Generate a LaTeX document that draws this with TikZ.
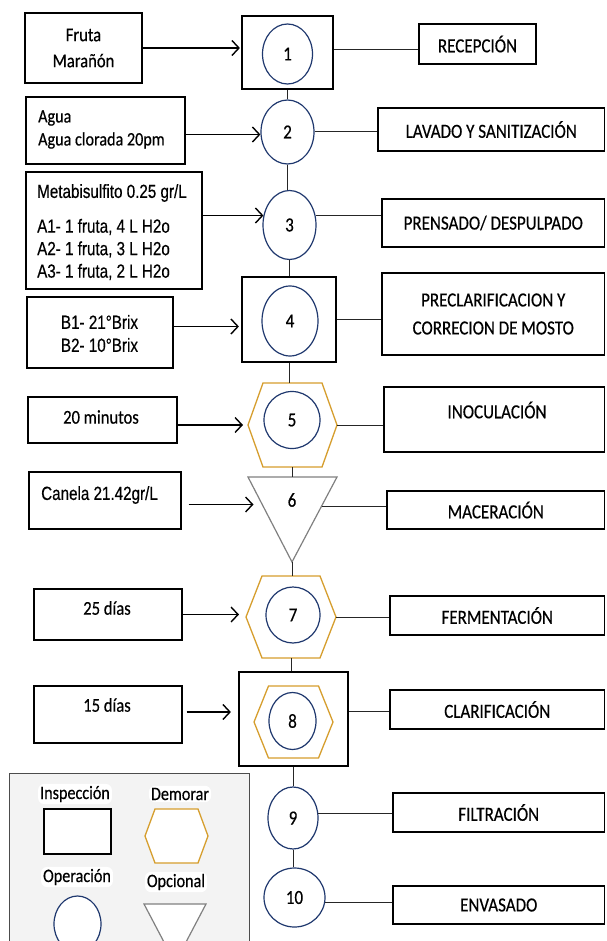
\documentclass[tikz,border=0pt]{standalone}
\usepackage{fontspec}
\setmainfont{Carlito}[FakeStretch=0.85,FakeBold=0.4]
\newfontfamily\narrowfont{Liberation Sans}[FakeStretch=0.8,FakeBold=0.4]
\usetikzlibrary{shapes.geometric,arrows.meta,calc}
\definecolor{navy}{RGB}{31,56,110}
\definecolor{gold}{RGB}{214,158,46}
\definecolor{trigray}{RGB}{128,128,128}
\definecolor{leggray}{RGB}{243,243,243}
\begin{document}
\begin{tikzpicture}[x=1pt,y=-1pt,
  inbox/.style={draw=black,line width=1.1pt,rectangle,inner sep=0pt},
  rbox/.style={draw=black,line width=1.1pt,rectangle,inner sep=0pt,align=center,font=\fontsize{20}{28}\selectfont},
  thickbox/.style={draw=black,line width=2.2pt,rectangle,inner sep=0pt},
  opc/.style={draw=navy,line width=1.2pt,ellipse,inner sep=0pt,font=\fontsize{20}{22}\selectfont},
  hexline/.style={draw=gold,line width=1.3pt,line join=miter},
  triline/.style={draw=trigray,line width=1.2pt},
  conn/.style={draw=black!85,line width=1pt},
  feed/.style={draw=black,line width=1.7pt,-{Straight Barb[length=7pt,width=15pt,line width=1.4pt]}},
  txt/.style={inner sep=0pt,font=\fontsize{19.5}{26}\selectfont},
  ntxt/.style={inner sep=0pt,font=\narrowfont\fontsize{19}{22.5}\selectfont},
  legtxt/.style={inner sep=2pt,fill=white,rounded corners=6pt,font=\fontsize{19}{20}\selectfont},
]
\useasboundingbox (0,0) rectangle (606,941);
\clip (0,0) rectangle (606,941);
\fill[white] (0,0) rectangle (606,941);

% ---------- left input boxes ----------
\node[inbox,txt,align=center,minimum width=117pt,minimum height=70pt] (fruta) at (83.5,48) {Fruta\\Marañón};
\node[inbox,minimum width=159pt,minimum height=67pt] (agua) at (105.5,130.5) {};
\node[txt,anchor=west,align=left,font=\fontsize{19}{23}\selectfont] (aguat) at (38,129.5) {Agua\\Agua clorada 20pm};
\node[inbox,minimum width=176pt,minimum height=117pt] (meta) at (114,230.5) {};
\node[ntxt,anchor=west] (metat) at (37,193) {Metabisulfito 0.25 gr/L};
\node[ntxt,anchor=west,align=left] (alines) at (37,249.5) {A1- 1 fruta, 4 L H2o\\A2- 1 fruta, 3 L H2o\\A3- 1 fruta, 2 L H2o};
\node[inbox,minimum width=146pt,minimum height=71pt] (brix) at (100,332.5) {};
\node[ntxt,align=center,font=\narrowfont\fontsize{19}{23}\selectfont] (brixt) at (99.5,333.5) {B1- 21°Brix\\B2- 10°Brix};
\node[inbox,minimum width=149pt,minimum height=46pt] (min20) at (102.5,420) {};
\node[txt] (min20t) at (101,417) {20 minutos};
\node[inbox,minimum width=152pt,minimum height=57pt] (canela) at (105,500.5) {};
\node[ntxt,anchor=west] (canelat) at (41,495) {Canela 21.42gr/L};
\node[inbox,minimum width=148pt,minimum height=51pt] (d25) at (108,614.5) {};
\node[txt] (d25t) at (107,608) {25 días};
\node[inbox,minimum width=148pt,minimum height=57pt] (d15) at (108,714.5) {};
\node[txt] (d15t) at (107,705) {15 días};

% ---------- central process column ----------
\node[thickbox,minimum width=91pt,minimum height=73pt] (box1) at (287.5,52.5) {};
\node[opc,minimum width=50pt,minimum height=60pt] (c1) at (287.5,54) {1};
\node[opc,minimum width=53pt,minimum height=64pt] (c2) at (287.5,132) {2};
\node[opc,minimum width=53pt,minimum height=69pt] (c3) at (289.5,225) {3};
\node[thickbox,minimum width=94pt,minimum height=85pt] (box4) at (289,319.5) {};
\node[opc,minimum width=56pt,minimum height=70pt] (c4) at (290,321) {4};

\coordinate (h5l) at (248,425);
\coordinate (h5r) at (337,425);
\coordinate (h5t) at (292.5,383);
\coordinate (h5b) at (292.5,467);
\draw[hexline] (h5l) -- ++(15,-42) -- ++(59,0) -- (h5r) -- ++(-15,42) -- ++(-59,0) -- cycle;
\node[opc,minimum width=56pt,minimum height=57pt] (c5) at (292,420) {5};

\coordinate (t6a) at (248,477);
\coordinate (t6b) at (337,477);
\coordinate (t6c) at (292,562);
\coordinate (t6top) at (292,477);
\coordinate (t6r) at (322,506);
\coordinate (t6l) at (262.5,505);
\draw[triline,line join=miter] (t6a) -- (t6b) -- (t6c) -- cycle;
\node[opc,draw=none] (n6) at (292,500) {6};

\coordinate (h7l) at (246,617);
\coordinate (h7r) at (336,617);
\coordinate (h7t) at (291,576);
\coordinate (h7b) at (291,658);
\draw[hexline] (h7l) -- ++(16,-41) -- ++(58,0) -- (h7r) -- ++(-16,41) -- ++(-58,0) -- cycle;
\node[opc,minimum width=54pt,minimum height=56pt] (c7) at (293,615) {7};

\node[thickbox,minimum width=109pt,minimum height=94pt] (box8) at (293.5,719) {};
\coordinate (h8l) at (254,722);
\coordinate (h8r) at (333,722);
\draw[hexline] (h8l) -- ++(14.5,-36) -- ++(50,0) -- (h8r) -- ++(-14.5,36) -- ++(-50,0) -- cycle;
\node[opc,minimum width=47pt,minimum height=57pt] (c8) at (292.5,721) {8};

\node[opc,minimum width=50pt,minimum height=62pt] (c9) at (293,818) {9};
\node[opc,minimum width=61pt,minimum height=59pt] (c10) at (294.5,897.5) {10};

% ---------- right labels ----------
\node[rbox,minimum width=117pt,minimum height=40pt] (rec) at (477.5,44) {RECEPCIÓN};
\node[rbox,minimum width=226.5pt,minimum height=43pt] (lav) at (491.25,129.5) {LAVADO Y SANITIZACIÓN};
\node[rbox,minimum width=222.5pt,minimum height=48pt] (pren) at (493.25,223) {PRENSADO/ DESPULPADO};
\node[rbox,minimum width=222.5pt,minimum height=82pt] (prec) at (493.25,314) {PRECLARIFICACION Y\\CORRECION DE MOSTO};
\node[rbox,minimum width=220.5pt,minimum height=65pt] (inoc) at (494.25,419.5) {};
\node[txt,font=\fontsize{20}{22}\selectfont] (inoct) at (497,410) {INOCULACIÓN};
\node[rbox,minimum width=217.5pt,minimum height=38pt] (mac) at (495.75,510) {MACERACIÓN};
\node[rbox,minimum width=214.5pt,minimum height=39pt] (ferm) at (497.25,615.5) {FERMENTACIÓN};
\node[rbox,minimum width=214.5pt,minimum height=39pt] (clar) at (497.25,709.5) {CLARIFICACIÓN};
\node[rbox,minimum width=211.5pt,minimum height=39pt] (filt) at (498.75,812.5) {FILTRACIÓN};
\node[rbox,minimum width=211.5pt,minimum height=38pt] (env) at (498.75,905) {ENVASADO};

% ---------- vertical connectors ----------
\draw[conn] (box1.south) -- (box1.south |- c2.north);
\draw[conn] (c2.south) -- (c2.south |- c3.north);
\draw[conn] (c3.south) -- (c3.south |- box4.north);
\draw[conn] (box4.south) -- (box4.south |- h5t);
\draw[conn] (h5b) -- (h5b |- t6top);
\draw[conn] (t6c) -- (t6c |- h7t);
\draw[conn] (h7b) -- (h7b |- box8.north);
\draw[conn] (box8.south) -- (box8.south |- c9.north);
\draw[conn] (c9.south) -- (c9.south |- c10.north);

% ---------- horizontal connectors ----------
\draw[conn] ([yshift=3pt]box1.east) -- ([yshift=3pt]box1.east -| rec.west);
\draw[conn] (c2.east) -- (c2.east -| lav.west);
\draw[conn] (c3.19) -- (c3.19 -| pren.west);
\draw[conn] (box4.east) -- (box4.east -| prec.west);
\draw[conn] (h5r) -- (h5r -| inoc.west);
\draw[conn] (t6r) -- (t6r -| mac.west);
\draw[conn] (h7r) -- (h7r -| ferm.west);
\draw[conn] ([yshift=8pt]box8.east) -- ([yshift=8pt]box8.east -| clar.west);
\draw[conn] (c9.10) -- (c9.10 -| filt.west);
\draw[conn] (c10.-10) -- (c10.-10 -| env.west);

% ---------- feed arrows ----------
\draw[feed,shorten >=1pt] (fruta.east) -- (fruta.east -| box1.west);
\draw[feed] ([yshift=-4pt]agua.east) -- ([yshift=-4pt]agua.east -| c2.west);
\draw[feed] (meta.east |- c3.160) -- (c3.160);
\draw[feed,shorten >=2pt] ([yshift=6pt]brix.east) -- ([yshift=6pt]brix.east -| box4.west);
\draw[feed,shorten >=5pt] ([yshift=-5pt]min20.east) -- ([yshift=-5pt]min20.east -| h5l);
\draw[feed,shorten <=7pt,shorten >=9pt] ([yshift=-4pt]canela.east) -- ([yshift=-4pt]canela.east -| t6l);
\draw[feed,shorten >=7pt] (d25.east) -- (d25.east -| h7l);
\draw[feed,shorten <=4pt,shorten >=7pt] ([yshift=2.5pt]d15.east) -- ([yshift=2.5pt]d15.east -| box8.west);

% ---------- legend ----------
\node[draw=black!70,line width=1.3pt,fill=leggray,minimum width=240pt,minimum height=190pt,anchor=north west,inner sep=0pt] (leg) at (9,773) {};
\node[legtxt] (li) at (75,794) {Inspección};
\node[legtxt] (ld) at (180,794) {Demorar};
\node[legtxt] (lo) at (77,877) {Operación};
\node[legtxt] (lp) at (176,882) {Opcional};
\node[inbox,fill=white,minimum width=67pt,minimum height=45pt] (lrect) at (77.5,831.5) {};
\coordinate (lhl) at (145,836);
\coordinate (lhr) at (208,836);
\draw[hexline,fill=white] (lhl) -- ++(10,-27) -- ++(43,0) -- (lhr) -- ++(-10,27) -- ++(-43,0) -- cycle;
\node[opc,fill=white,minimum width=47pt,minimum height=56pt] (lcirc) at (77.5,924) {};
\coordinate (lta) at (144,904);
\coordinate (ltb) at (206,904);
\coordinate (ltc) at (175,963);
\draw[triline,fill=white,line join=miter] (lta) -- (ltb) -- (ltc) -- cycle;
\end{tikzpicture}
\end{document}
